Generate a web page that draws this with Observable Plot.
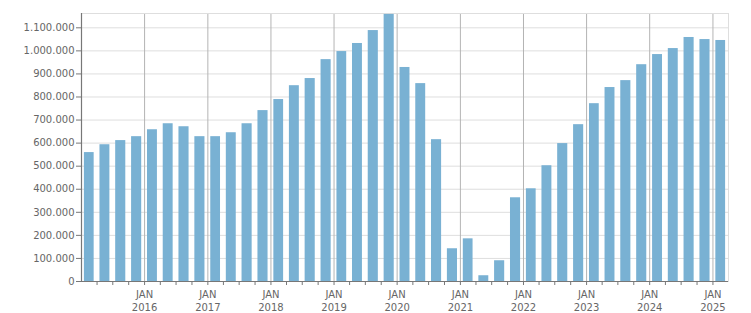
<!DOCTYPE html>
<html>
<head>
<meta charset="utf-8">
<script src="https://cdn.jsdelivr.net/npm/d3@7"></script>
<script src="https://cdn.jsdelivr.net/npm/@observablehq/plot@0.6"></script>
<style>
  html, body { margin: 0; padding: 0; background: #fff; }
  #chart svg { display: block; }
</style>
</head>
<body>
<div id="chart"></div>
<script>
const quarters = [
  "2015 Q1","2015 Q2","2015 Q3","2015 Q4",
  "2016 Q1","2016 Q2","2016 Q3","2016 Q4",
  "2017 Q1","2017 Q2","2017 Q3","2017 Q4",
  "2018 Q1","2018 Q2","2018 Q3","2018 Q4",
  "2019 Q1","2019 Q2","2019 Q3","2019 Q4",
  "2020 Q1","2020 Q2","2020 Q3","2020 Q4",
  "2021 Q1","2021 Q2","2021 Q3","2021 Q4",
  "2022 Q1","2022 Q2","2022 Q3","2022 Q4",
  "2023 Q1","2023 Q2","2023 Q3","2023 Q4",
  "2024 Q1","2024 Q2","2024 Q3","2024 Q4",
  "2025 Q1"
];
const values = [
  559000, 593000, 611000, 628000,
  658000, 684000, 671000, 628000,
  628000, 645000, 684000, 741000,
  789000, 849000, 880000, 962000,
  997000, 1032000, 1088000, 1158000,
  928000, 858000, 615000, 142000,
  185000, 25000, 90000, 363000,
  402000, 502000, 598000, 680000,
  771000, 841000, 871000, 940000,
  984000, 1010000, 1058000, 1049000,
  1045000
];
const yTicks = [0,100000,200000,300000,400000,500000,600000,700000,800000,900000,1000000,1100000];
const yearLabels = ["2016","2017","2018","2019","2020","2021","2022","2023","2024","2025"];
const monthLabel = "JAN";

const qStart = q => { const [y, n] = q.split(" Q"); return new Date(Date.UTC(+y, (+n - 1) * 3, 1)); };
const qEnd = q => { const [y, n] = q.split(" Q"); return new Date(Date.UTC(+y, (+n) * 3, 1)); };
const data = quarters.map((q, i) => ({ x1: qStart(q), x2: qEnd(q), v: values[i] }));
const janDates = yearLabels.map(y => new Date(Date.UTC(+y, 0, 1)));
const quarterTicks = quarters.slice(1).map(qStart);
const domainX = [qStart(quarters[0]), qEnd(quarters[quarters.length - 1])];
const yMax = 1162000;

const fmt = d3.formatLocale({decimal: ",", thousands: ".", grouping: [3], currency: ["", "€"]}).format(",d");

const chart = Plot.plot({
  width: 751,
  height: 313,
  marginLeft: 81,
  marginRight: 23,
  marginTop: 13,
  marginBottom: 32,
  style: { fontFamily: "DejaVu Sans", fontSize: "10px", color: "#666", background: "#fff" },
  x: { type: "utc", domain: domainX },
  y: { domain: [0, yMax] },
  marks: [
    Plot.ruleY(yTicks, { stroke: "#dedede", strokeWidth: 1 }),
    Plot.ruleX(janDates, { stroke: "#b4b4b4", strokeWidth: 1 }),
    Plot.frame({ stroke: "#dedede" }),
    Plot.rect(data, { x1: "x1", x2: "x2", y1: 0, y2: "v", fill: "#79b1d3", insetLeft: 2.9, insetRight: 2.9 }),
    Plot.axisY({ ticks: yTicks, tickFormat: fmt, tickSize: 5, tickPadding: 2, stroke: "#777", fill: "#666", label: null }),
    Plot.axisX({
      ticks: quarterTicks,
      tickFormat: d => d.getUTCMonth() === 0 ? monthLabel + "\n" + d.getUTCFullYear() : "",
      tickSize: 4, tickPadding: 4, stroke: "#777", fill: "#666", lineHeight: 1.25, label: null
    }),
    Plot.ruleX([domainX[0]], { stroke: "#777", strokeWidth: 1.2 }),
    Plot.ruleY([0], { stroke: "#777", strokeWidth: 1.2 })
  ]
});
document.getElementById("chart").appendChild(chart);
</script>
</body>
</html>
